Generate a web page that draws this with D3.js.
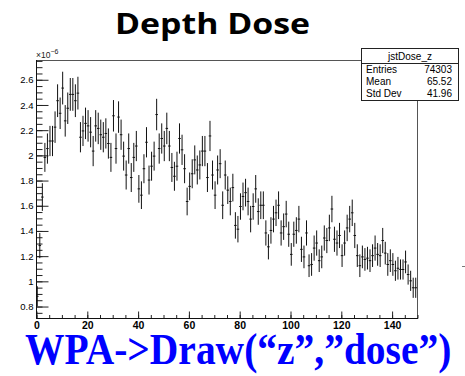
<!DOCTYPE html>
<html><head><meta charset="utf-8">
<script src="https://cdn.jsdelivr.net/npm/d3@7"></script>
<style>html,body{margin:0;padding:0;background:#fff;} svg{display:block;}</style>
</head><body>
<svg id="c" width="465" height="376"></svg>
<script>
const title = "Depth Dose";
const caption = "WPA->Draw(“z”,”dose”)";
const statsTitle = "jstDose_z";
const statsLabels = ["Entries", "Mean", "Std Dev"];
const statsValues = ["74303", "65.52", "41.96"];
const xMin = 0, xMax = 150, nBins = 150;
// bin contents in units of 1e-6
const dose = [
 0.877,1.28,1.665,1.98,2.05,2.11,2.11,2.22,2.43,2.33,
 2.53,2.27,2.37,2.48,2.48,2.43,2.49,2.14,2.19,2.25,
 2.23,2.18,2.03,2.23,2.21,2.16,2.14,2.17,2.09,1.98,
 2.31,2.05,2.30,2.16,1.99,1.84,2.05,1.82,1.98,2.07,
 1.73,1.68,1.89,2.10,1.80,1.91,1.99,2.32,2.05,2.13,
 2.07,2.21,2.07,1.90,1.83,1.91,2.13,2.04,1.89,1.63,
 1.75,1.85,1.96,1.88,1.92,2.03,2.03,1.82,2.15,1.84,
 1.68,1.88,1.93,1.60,1.84,1.72,1.63,1.74,1.44,1.41,
 1.59,1.67,1.70,1.63,1.49,1.59,1.73,1.55,1.60,1.60,
 1.38,1.27,1.40,1.49,1.54,1.60,1.38,1.43,1.53,1.37,
 1.21,1.37,1.40,1.49,1.25,1.19,1.38,1.12,1.13,1.26,
 1.30,1.16,1.19,1.34,1.32,1.42,1.57,1.33,1.30,1.36,
 1.20,1.30,1.42,1.49,1.54,1.36,1.20,1.12,1.19,1.17,
 1.18,1.16,1.20,1.26,1.21,1.20,1.32,1.22,1.13,1.16,
 1.13,1.08,1.10,1.09,1.09,1.15,1.05,1.00,0.945,0.945
];
const doseErr = [
 0.08,0.10,0.11,0.115,0.12,0.12,0.12,0.125,0.13,0.125,
 0.13,0.125,0.125,0.13,0.13,0.13,0.13,0.12,0.12,0.125,
 0.125,0.12,0.12,0.125,0.125,0.12,0.12,0.12,0.12,0.115,
 0.125,0.12,0.125,0.12,0.115,0.115,0.12,0.115,0.115,0.12,
 0.11,0.11,0.115,0.12,0.115,0.115,0.115,0.125,0.12,0.12,
 0.12,0.125,0.12,0.115,0.115,0.115,0.12,0.12,0.115,0.11,
 0.11,0.115,0.115,0.115,0.115,0.12,0.12,0.115,0.12,0.115,
 0.11,0.115,0.115,0.11,0.115,0.11,0.11,0.11,0.105,0.105,
 0.105,0.11,0.11,0.11,0.105,0.105,0.11,0.105,0.11,0.11,
 0.10,0.10,0.105,0.105,0.105,0.11,0.10,0.105,0.105,0.10,
 0.09,0.10,0.105,0.105,0.10,0.09,0.10,0.09,0.09,0.10,
 0.10,0.09,0.09,0.10,0.10,0.105,0.105,0.10,0.10,0.10,
 0.09,0.10,0.105,0.105,0.105,0.10,0.09,0.09,0.09,0.09,
 0.09,0.09,0.09,0.10,0.09,0.09,0.10,0.09,0.09,0.09,
 0.09,0.08,0.09,0.08,0.08,0.09,0.08,0.08,0.08,0.08
];
const xTickValues = [0, 20, 40, 60, 80, 100, 120, 140];
const xMinorTickValues = d3.range(0, 151, 5);
const yTickValues = [0.8, 1.0, 1.2, 1.4, 1.6, 1.8, 2.0, 2.2, 2.4, 2.6];
const yTickLabels = ["0.8", "1", "1.2", "1.4", "1.6", "1.8", "2", "2.2", "2.4", "2.6"];
const yMinorTickValues = d3.range(15, 56).map(k => k * 0.05);
const yExponent = "−6";

const svg = d3.select("#c");
const L = 36, R = 417, T = 60, B = 318;
const binW = (xMax - xMin) / nBins;
const x = d3.scaleLinear().domain([xMin, xMax]).range([L, R]);
const y = d3.scaleLinear().domain([0.705, 2.753]).range([B, T]);

// title
svg.append("text").attr("x", 115).attr("y", 34)
  .attr("font-family", "'Open Sans', sans-serif").attr("font-weight", 700)
  .attr("font-size", 29).attr("textLength", 195).attr("lengthAdjust", "spacingAndGlyphs")
  .attr("fill", "#000").text(title);

// frame
svg.append("rect").attr("x", L + 0.5).attr("y", T + 0.5).attr("width", R - L).attr("height", B - T)
  .attr("fill", "none").attr("stroke", "#555").attr("stroke-width", 1);

// axes
const fontAxis = "'Liberation Sans', Arial, sans-serif";
const gxMinor = svg.append("g").attr("transform", `translate(0.5,${B + 0.5})`)
  .call(d3.axisBottom(x).tickValues(xMinorTickValues).tickSize(-3.5).tickFormat(""));
const gx = svg.append("g").attr("transform", `translate(0.5,${B + 0.5})`)
  .call(d3.axisBottom(x).tickValues(xTickValues).tickSize(-7).tickPadding(3).tickFormat(d3.format("d")));
const gyMinor = svg.append("g").attr("transform", `translate(${L + 0.5},0.5)`)
  .call(d3.axisLeft(y).tickValues(yMinorTickValues).tickSize(-6).tickFormat(""));
const gy = svg.append("g").attr("transform", `translate(${L + 0.5},0.5)`)
  .call(d3.axisLeft(y).tickValues(yTickValues).tickSize(-12).tickPadding(3)
    .tickFormat((d, i) => yTickLabels[i]));
[gxMinor, gx, gyMinor, gy].forEach(g => {
  g.select(".domain").remove();
  g.selectAll("line").attr("stroke", "#222");
});
gx.selectAll("text").attr("font-family", fontAxis).attr("font-size", 10.5).attr("font-weight", 700).attr("fill", "#000");
gy.selectAll("text").attr("font-family", fontAxis).attr("font-size", 9.5).attr("fill", "#000");
// axis lines
svg.append("line").attr("x1", L + 0.5).attr("x2", L + 0.5).attr("y1", T).attr("y2", B + 1).attr("stroke", "#111");
svg.append("line").attr("x1", L).attr("x2", R + 1).attr("y1", B + 0.5).attr("y2", B + 0.5).attr("stroke", "#111");

// exponent label
const ex = svg.append("text").attr("x", 36).attr("y", 58)
  .attr("font-family", fontAxis).attr("font-size", 8.5).attr("fill", "#222");
ex.append("tspan").text("×10");
ex.append("tspan").attr("dy", -4).attr("font-size", 7).text(yExponent);

// data: error bars
const bins = dose.map((v, i) => ({ lo: xMin + i * binW, hi: xMin + (i + 1) * binW, v, e: doseErr[i] }));
const gd = svg.append("g").attr("stroke", "#111").attr("stroke-width", 1);
gd.selectAll("line.h").data(bins).join("line").attr("class", "h")
  .attr("x1", d => x(d.lo)).attr("x2", d => x(d.hi))
  .attr("y1", d => y(d.v)).attr("y2", d => y(d.v));
gd.selectAll("line.v").data(bins).join("line").attr("class", "v")
  .attr("x1", d => x((d.lo + d.hi) / 2)).attr("x2", d => x((d.lo + d.hi) / 2))
  .attr("y1", d => y(d.v - d.e)).attr("y2", d => y(d.v + d.e));

// stats box
const sb = svg.append("g");
const sx = 361, sy = 48, sw = 97, sh = 52;
sb.append("rect").attr("x", sx + 0.5).attr("y", sy + 0.5).attr("width", sw).attr("height", sh)
  .attr("fill", "#fff").attr("stroke", "#222");
sb.append("line").attr("x1", sx).attr("x2", sx + sw + 1).attr("y1", sy + 15.5).attr("y2", sy + 15.5).attr("stroke", "#222");
sb.append("text").attr("x", sx + sw / 2 + 0.5).attr("y", sy + 11.5).attr("text-anchor", "middle")
  .attr("font-family", fontAxis).attr("font-size", 10).attr("fill", "#000").text(statsTitle);
statsLabels.forEach((lab, i) => {
  sb.append("text").attr("x", sx + 5).attr("y", sy + 25 + i * 11.8)
    .attr("font-family", fontAxis).attr("font-size", 10).attr("fill", "#000").text(lab);
  sb.append("text").attr("x", sx + sw - 6).attr("y", sy + 25 + i * 11.8).attr("text-anchor", "end")
    .attr("font-family", fontAxis).attr("font-size", 10).attr("fill", "#000").text(statsValues[i]);
});

// small stray mark at right edge
svg.append("line").attr("x1", 462).attr("x2", 465).attr("y1", 266.5).attr("y2", 266.5).attr("stroke", "#777");

// caption (slightly tall letterforms, as in the reference)
svg.append("g").attr("transform", "translate(25,364) scale(1,1.12)")
  .append("text").attr("x", 0).attr("y", 0)
  .attr("font-family", "'Liberation Serif', 'Times New Roman', serif").attr("font-weight", 700)
  .attr("font-size", 39.5)
  .attr("fill", "#0000ff").text(caption);
</script>
</body></html>
